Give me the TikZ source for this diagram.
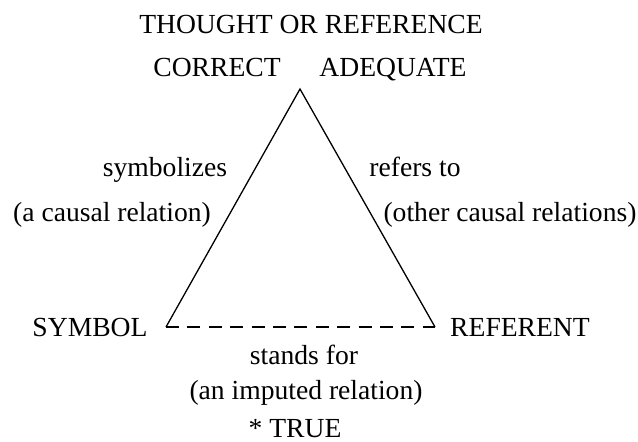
\documentclass[tikz,border=0pt]{standalone}
\usepackage{fontspec}
\setmainfont{Liberation Serif}
\usepackage{tikz}
\usetikzlibrary{positioning}
\tikzset{
  lbl/.style   ={anchor=base, inner sep=0pt, font=\fontsize{13.8}{16}\selectfont},
  side/.style  ={line width=0.65pt, line join=miter},
  dashside/.style={line width=0.65pt, dash pattern=on 6.5pt off 4.2pt},
}
\begin{document}
\begin{tikzpicture}[x=0.5pt,y=-0.5pt]
  \useasboundingbox (0,0) rectangle (638,441);
  % corners of the triangle
  \coordinate (apex) at (300,89);
  \coordinate (lft)  at (166,327);
  \coordinate (rgt)  at (435,327);
  % top labels
  \node[lbl] (thought) at (311,33) {THOUGHT OR REFERENCE};
  \node[lbl] (correct) at (217,76) {CORRECT};
  \node[lbl] (adequate) at (393,76) {ADEQUATE};
  % side labels
  \node[lbl] (symbolizes) at (165,176) {symbolizes};
  \node[lbl] (causal) at (112,221) {(a causal relation)};
  \node[lbl] (refers) at (415,176) {refers to};
  \node[lbl] (othercausal) at (510,221) {(other causal relations)};
  % bottom labels
  \node[lbl] (symbol) at (90,336) {SYMBOL};
  \node[lbl] (referent) at (520,336) {REFERENT};
  \node[lbl] (stands) at (304,364) {stands for};
  \node[lbl] (imputed) at (306,399) {(an imputed relation)};
  \node[lbl] (true) at (295,437) {* TRUE};
  \draw[side] (lft) -- (apex) -- (rgt);
  \draw[dashside] (lft) -- (rgt);
\end{tikzpicture}
\end{document}
